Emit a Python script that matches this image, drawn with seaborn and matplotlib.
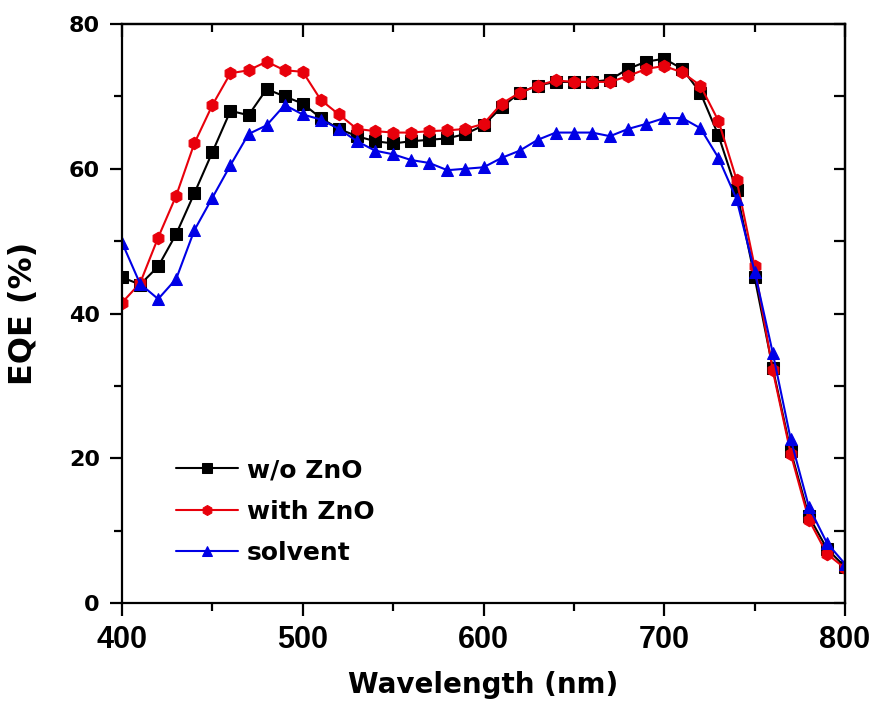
import numpy as np
import pandas as pd
import seaborn as sns
import matplotlib.pyplot as plt
from matplotlib import font_manager
from matplotlib.ticker import MultipleLocator

# wavelength axis (nm)
wavelength = list(range(400, 801, 10))

# EQE (%)
eqe_wo_zno = [45.0, 44.0, 46.5, 51.0, 56.6, 62.3, 68.0, 67.4, 71.0, 70.0,
              69.0, 67.0, 65.5, 64.5, 63.8, 63.5, 63.8, 64.0, 64.2, 64.8,
              66.0, 68.5, 70.5, 71.5, 72.0, 72.0, 72.0, 72.3, 73.8, 74.8,
              75.2, 73.8, 70.5, 64.6, 57.0, 45.0, 32.5, 21.0, 12.0, 7.5, 5.0]
eqe_with_zno = [41.5, 44.2, 50.5, 56.3, 63.5, 68.8, 73.2, 73.6, 74.8, 73.6,
                73.4, 69.5, 67.5, 65.5, 65.2, 65.0, 65.0, 65.2, 65.3, 65.5,
                66.2, 69.0, 70.5, 71.5, 72.2, 72.0, 72.0, 72.0, 72.8, 73.8,
                74.2, 73.3, 71.5, 66.6, 58.5, 46.5, 32.2, 20.6, 11.5, 6.8, 4.8]
eqe_solvent = [49.8, 44.1, 42.0, 44.8, 51.5, 56.0, 60.5, 64.8, 66.0, 68.8,
               67.5, 66.8, 65.5, 63.8, 62.5, 62.0, 61.2, 60.8, 59.8, 60.0,
               60.2, 61.5, 62.5, 64.0, 65.0, 65.0, 65.0, 64.5, 65.5, 66.2,
               67.0, 67.0, 65.6, 61.5, 55.8, 45.8, 34.6, 22.6, 13.3, 8.3, 5.4]

labels = ["w/o ZnO", "with ZnO", "solvent"]
colors = ["black", "#e8000b", "#0000e6"]
markers = ["s", "h", "^"]

df = pd.DataFrame({"Wavelength": wavelength * 3,
                   "EQE": eqe_wo_zno + eqe_with_zno + eqe_solvent,
                   "sample": [l for l in labels for _ in wavelength]})

sns.set_style("ticks")
plt.rcParams['font.family'] = ['Liberation Sans', 'DejaVu Sans']
plt.rcParams.update({'text.color': 'black', 'axes.labelcolor': 'black',
                     'xtick.color': 'black', 'ytick.color': 'black',
                     'axes.edgecolor': 'black'})

# narrow font for the x tick labels if it is there
names = {f.name for f in font_manager.fontManager.ttflist}
narrow = 'Liberation Sans Narrow' if 'Liberation Sans Narrow' in names else 'Liberation Sans'

fig = plt.figure(figsize=(8.76, 7.08), dpi=100)
ax = fig.add_axes([0.1393, 0.1483, 0.8253, 0.8178])

for lab, c, m in zip(labels, colors, markers):
    sns.lineplot(data=df[df["sample"] == lab], x="Wavelength", y="EQE",
                 color=c, marker=m, markersize=9, markeredgecolor=c,
                 linewidth=1.5, label=lab, ax=ax)

ax.set_xlim(400, 800)
ax.set_ylim(0, 80)
ax.xaxis.set_major_locator(MultipleLocator(100))
ax.xaxis.set_minor_locator(MultipleLocator(50))
ax.yaxis.set_major_locator(MultipleLocator(20))
ax.yaxis.set_minor_locator(MultipleLocator(10))

for s in ax.spines.values():
    s.set_visible(True)
    s.set_linewidth(1.6)
ax.tick_params(which='both', direction='out', width=1.6, pad=7,
               top=False, right=False)
ax.tick_params(which='major', length=9)
ax.tick_params(which='minor', length=5.5)

# inward ticks on top and right
axt = ax.secondary_xaxis('top')
axt.xaxis.set_major_locator(MultipleLocator(100))
axt.xaxis.set_minor_locator(MultipleLocator(50))
axt.tick_params(which='both', direction='in', width=1.6, labeltop=False)
axt.tick_params(which='major', length=9)
axt.tick_params(which='minor', length=5.5)
axr = ax.secondary_yaxis('right')
axr.yaxis.set_major_locator(MultipleLocator(20))
axr.yaxis.set_minor_locator(MultipleLocator(10))
axr.tick_params(which='both', direction='in', width=1.6, labelright=False)
axr.tick_params(which='major', length=8)
axr.tick_params(which='minor', length=8)
for s in list(axt.spines.values()) + list(axr.spines.values()):
    s.set_linewidth(1.6)

for t in ax.get_yticklabels():
    t.set_fontfamily(['DejaVu Sans'])
    t.set_fontweight('bold')
    t.set_fontsize(16)
for t in ax.get_xticklabels():
    t.set_fontfamily([narrow, 'DejaVu Sans'])
    t.set_fontweight('bold')
    t.set_fontsize(22)

ax.set_xlabel("Wavelength (nm)", fontsize=20, fontweight='bold',
              fontfamily=['DejaVu Sans'])
ax.set_ylabel("EQE (%)", fontsize=23, fontweight='bold',
              fontfamily=['DejaVu Sans'])
ax.xaxis.set_label_coords(0.5, -0.118)
ax.yaxis.set_label_coords(-0.115, 0.5)

leg = ax.legend(loc='upper left', bbox_to_anchor=(0.043, 0.289), frameon=False,
                prop={'family': 'DejaVu Sans', 'weight': 'bold', 'size': 18},
                handlelength=2.5, handletextpad=0.35,
                labelspacing=0.7, markerscale=0.8)

fig.savefig("out.png", dpi=100)
